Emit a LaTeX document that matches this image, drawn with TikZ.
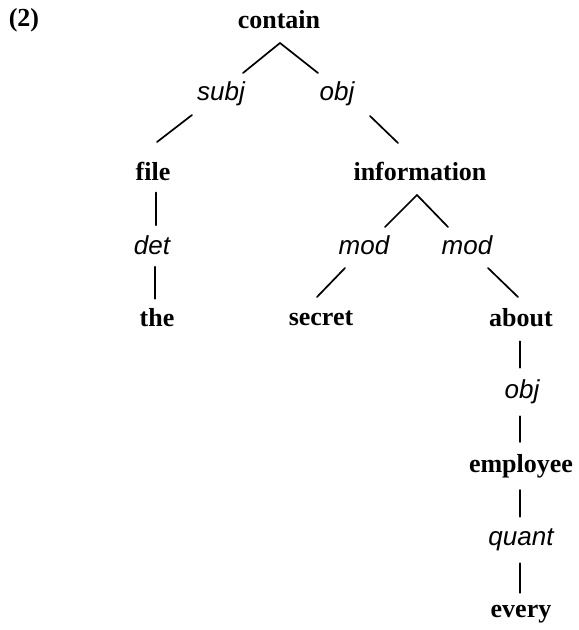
\documentclass[tikz,border=0pt]{standalone}
\usepackage{fontspec}
\setmainfont{Liberation Serif}
\newfontfamily\lblfont{Liberation Sans}
\usetikzlibrary{calc}
\tikzset{
  word/.style={font=\fontsize{26}{28}\selectfont\bfseries, inner sep=0pt, anchor=center},
  rel/.style={font=\fontsize{26}{28}\selectfont\lblfont\itshape, inner sep=0pt, anchor=center},
  edge/.style={line width=1.7pt, line cap=round}
}
\begin{document}
\begin{tikzpicture}[x=1pt,y=-1pt]
\useasboundingbox (0,0) rectangle (579,630);
% nodes
\node[word] (num) at (24,20) {(2)};
\node[word] (contain) at (279,20) {contain};
\node[rel] (subj) at (221,94) {subj};
\node[rel] (obj) at (337,94) {obj};
\node[word] (file) at (153,171) {file};
\node[word] (information) at (420,171) {information};
\node[rel] (det) at (152,245) {det};
\node[rel] (mod1) at (364,245) {mod};
\node[rel] (mod2) at (467,245) {mod};
\node[word] (the) at (157,318) {the};
\node[word] (secret) at (321,318) {secret};
\node[word] (about) at (521,318) {about};
\node[rel] (obj2) at (522,392) {obj};
\node[word] (employee) at (521,466) {employee};
\node[rel] (quant) at (521,540) {quant};
\node[word] (every) at (521,614) {every};
% connector end points
\coordinate (cA) at ($(contain)+(1,23)$);
\coordinate (sT) at ($(subj)+(22,-21)$);
\coordinate (oT) at ($(obj)+(-19,-21)$);
\coordinate (sB) at ($(subj)+(-29,21)$);
\coordinate (fT) at ($(file)+(4,-29)$);
\coordinate (oB) at ($(obj)+(33,22)$);
\coordinate (iT) at ($(information)+(-22,-28)$);
\coordinate (iA) at ($(information)+(-3,24)$);
\coordinate (m1T) at ($(mod1)+(21,-18)$);
\coordinate (m2T) at ($(mod2)+(-19,-18)$);
\coordinate (m1B) at ($(mod1)+(-19,23)$);
\coordinate (sT2) at ($(secret)+(-4,-21)$);
\coordinate (m2B) at ($(mod2)+(21,23)$);
\coordinate (aT) at ($(about)+(-3,-21)$);
% connectors
\draw[edge] (sT) -- (cA) -- (oT);
\draw[edge] (sB) -- (fT);
\draw[edge] (oB) -- (iT);
\draw[edge] (m1T) -- (iA) -- (m2T);
\draw[edge] (m1B) -- (sT2);
\draw[edge] (m2B) -- (aT);
\draw[edge] ($(file.south)+(3,12)$) -- ($(det.north)+(4,-10)$);
\draw[edge] ($(det.south)+(3,12)$) -- ($(the.north)+(-2,-10)$);
\draw[edge] ($(about.south)+(-1,14)$) -- ($(obj2.north)+(-2,-12)$);
\draw[edge] ($(obj2.south)+(-2,12)$) -- ($(employee.north)+(-1,-12)$);
\draw[edge] ($(employee.south)+(-1,12)$) -- ($(quant.north)+(-1,-12)$);
\draw[edge] ($(quant.south)+(-1,12)$) -- ($(every.north)+(-1,-12)$);
\end{tikzpicture}
\end{document}
